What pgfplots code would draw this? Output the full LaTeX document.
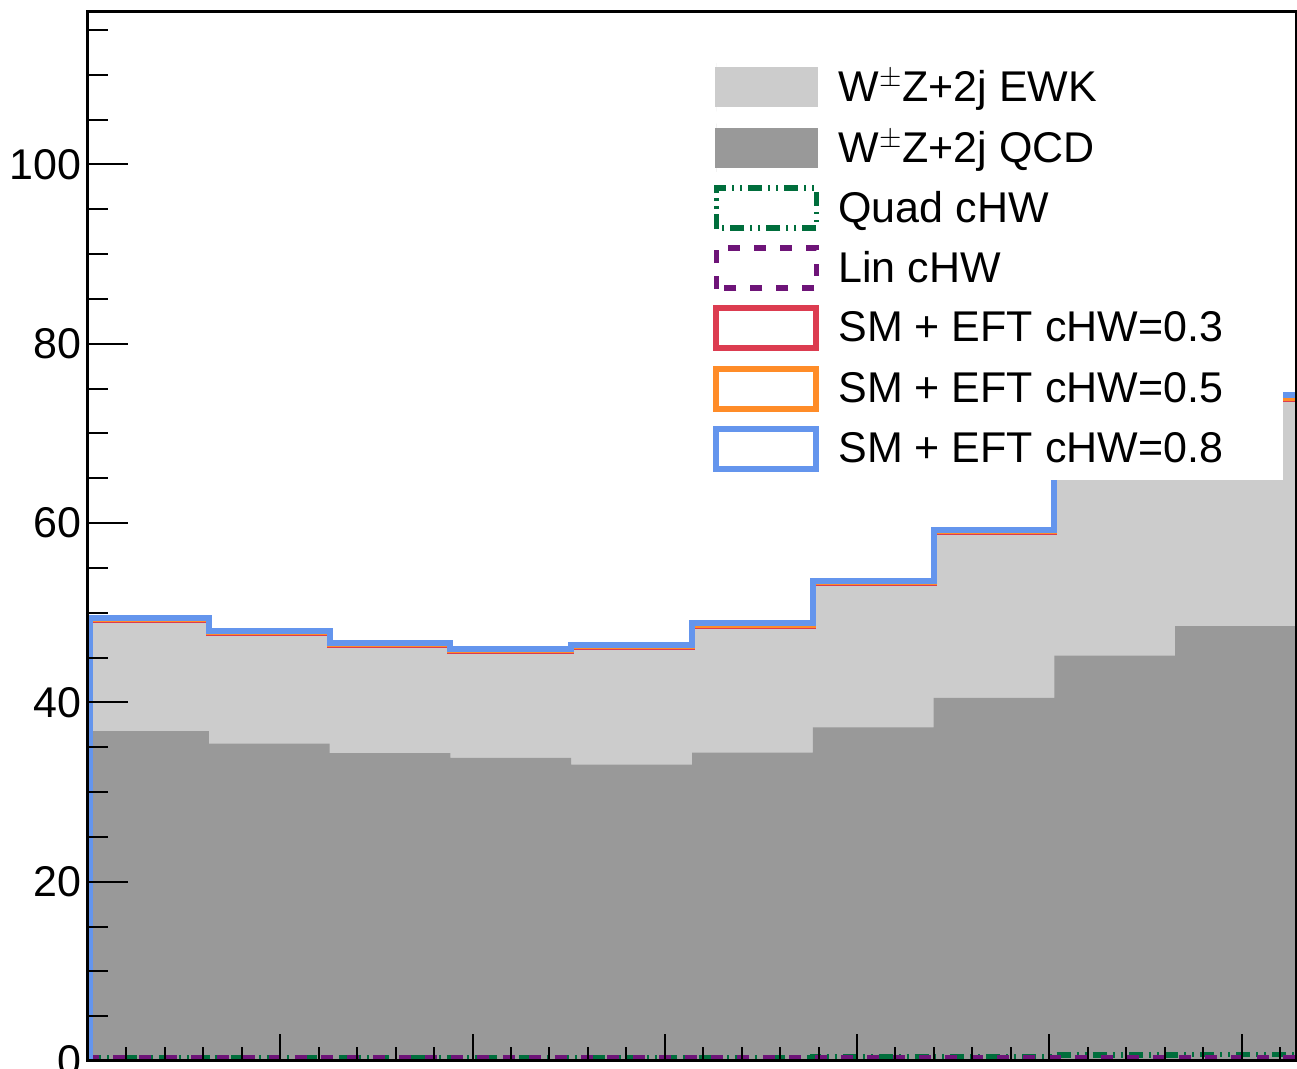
\documentclass[border=0pt]{standalone}
\usepackage{fontspec}
\setmainfont{Liberation Sans}
\usepackage{pgfplots}
\pgfplotsset{compat=1.18}
\usepackage{pgfplotstable}
\definecolor{ewkgray}{HTML}{CCCCCC}
\definecolor{qcdgray}{HTML}{999999}
\definecolor{quadgreen}{RGB}{0,110,60}
\definecolor{linpurple}{RGB}{110,20,120}
\definecolor{smred}{RGB}{220,60,80}
\definecolor{smorange}{RGB}{255,140,40}
\definecolor{smblue}{RGB}{100,149,237}
\pgfplotstableread{
x        qcd   ewk   sthree sfive  seight quad lin
0.0065   0     0     0      0      0      0    0
0.0065   36.8  12.35 49.15  49.27  49.40  0.40 0.38
0.31416  35.4  12.30 47.70  47.82  47.95  0.40 0.38
0.62832  34.35 12.00 46.35  46.47  46.60  0.40 0.38
0.94248  33.8  11.95 45.75  45.87  46.00  0.40 0.38
1.25664  33.05 13.15 46.20  46.32  46.45  0.40 0.38
1.57080  34.4  14.15 48.55  48.67  48.80  0.40 0.38
1.88496  37.2  16.10 53.30  53.42  53.55  0.42 0.38
2.19911  40.5  18.50 59.00  59.12  59.25  0.45 0.38
2.51327  45.2  21.10 66.30  66.45  66.65  0.65 0.38
2.82743  48.5  25.30 73.80  73.95  74.30  0.70 0.38
3.14159  48.5  25.30 73.80  73.95  74.30  0.70 0.38
}\data
\begin{document}
\begin{tikzpicture}
\begin{axis}[
  scale only axis, width=604pt, height=524.5pt,
  xmin=0, xmax=3.14159, ymin=0, ymax=117,
  axis on top,
  axis line style={line width=1.5pt, black},
  tick style={line width=1pt, black},
  tick align=inside,
  xtick pos=bottom, ytick pos=left,
  major tick length=20pt, minor tick length=10pt,
  x tick style={/pgfplots/major tick length=13.5pt, /pgfplots/minor tick length=7pt},
  xtick={0,0.5,...,3}, minor xtick={0.1,0.2,...,3.1},
  ytick={0,20,...,100}, minor ytick={5,10,...,115},
  xticklabels={},
  /pgf/number format/assume math mode=true,
  yticklabel style={font=\fontsize{21.5}{24}\selectfont, inner sep=0pt, xshift=-3pt},
  legend style={at={(0.5075,0.553)}, anchor=south west, fill=white, draw=none,
    inner xsep=6pt, inner ysep=3.5pt, row sep=6.05pt, column sep=9.5pt,
    font=\fontsize{21.5}{24}\selectfont, nodes={inner sep=0pt}},
  legend cell align=left,
  legend image code/.code={\path (0pt,-10.6pt) -- (0pt,10.6pt);\draw[#1] (0pt,-10pt) rectangle (50pt,10pt);},
]
\addplot[const plot, fill=ewkgray, draw=none,
  legend image code/.code={\path (0pt,-12.1pt) -- (0pt,12.1pt);\fill[ewkgray] (-0.75pt,-10pt) rectangle (50.75pt,10pt);}]
  table[x=x, y expr=\thisrow{qcd}+\thisrow{ewk}] {\data} \closedcycle;
\addlegendentry{\makebox[216.5pt][l]{W$^{\pm}$Z+2j EWK}}
\addplot[const plot, fill=qcdgray, draw=none,
  legend image code/.code={\path (0pt,-12.1pt) -- (0pt,12.1pt);\fill[qcdgray] (-0.75pt,-10pt) rectangle (50.75pt,10pt);}]
  table[x=x, y=qcd] {\data} \closedcycle;
\addlegendentry{W$^{\pm}$Z+2j QCD}
\addplot[const plot, quadgreen, line width=2.75pt, dash pattern=on 7pt off 3pt on 1pt off 3pt on 1pt off 3pt] table[x=x, y=quad] {\data};
\addlegendentry{Quad cHW}
\addplot[const plot, linpurple, line width=2.75pt, dash pattern=on 6pt off 7pt] table[x=x, y=lin] {\data};
\addlegendentry{Lin cHW}
\addplot[const plot, smred, line width=3pt] table[x=x, y=sthree] {\data};
\addlegendentry{SM + EFT cHW=0.3}
\addplot[const plot, smorange, line width=3pt] table[x=x, y=sfive] {\data};
\addlegendentry{SM + EFT cHW=0.5}
\addplot[const plot, smblue, line width=3pt] table[x=x, y=seight] {\data};
\addlegendentry{SM + EFT cHW=0.8}
\end{axis}
\pgfresetboundingbox
\path[use as bounding box] (-44pt,-4pt) rectangle (604.5pt,530.5pt);
\end{tikzpicture}
\end{document}
